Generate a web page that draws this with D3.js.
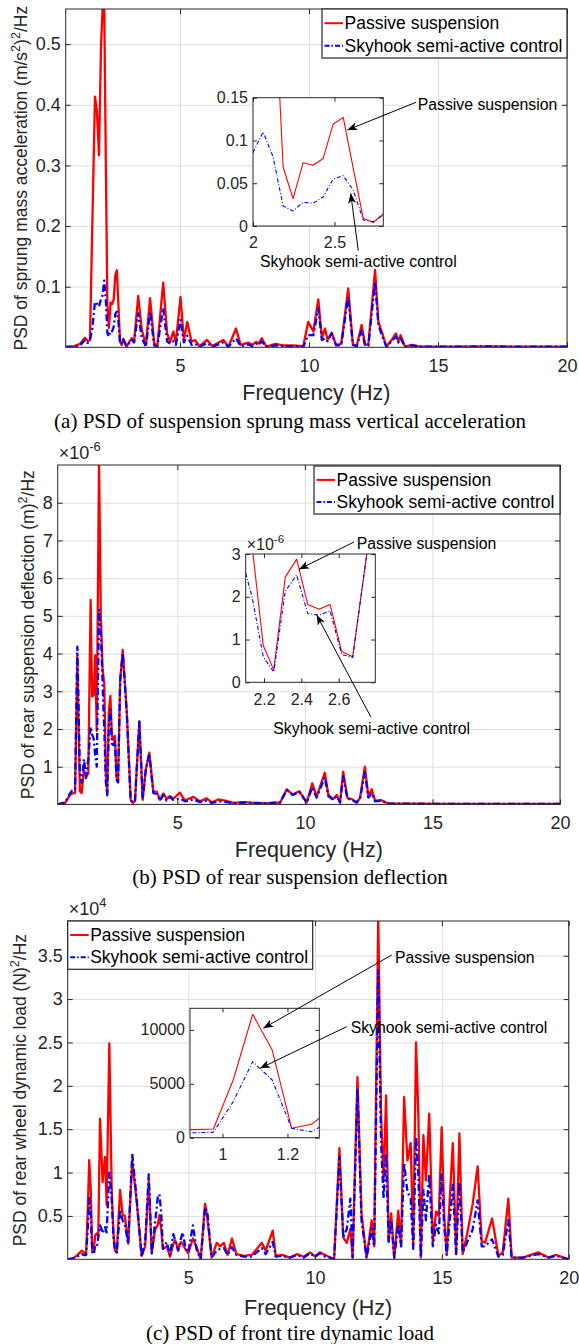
<!DOCTYPE html>
<html>
<head>
<meta charset="UTF-8">
<title>PSD comparison</title>
<script src="https://d3js.org/d3.v7.min.js"></script>
<style>
  body { margin: 0; background: #fff; }
  svg { display: block; font-family: "Liberation Sans", Arial, sans-serif; }
  .grid line { stroke: #dedede; stroke-width: 1; }
  .passive { fill: none; stroke: #ff0000; stroke-linejoin: round; }
  .skyhook { fill: none; stroke: #0000ff; stroke-linejoin: round; }
</style>
</head>
<body>
<svg width="579" height="1344"></svg>
<script>
// ---------- data ----------
var seriesNames = ['Passive suspension', 'Skyhook semi-active control'];
var xTicks = [5, 10, 15, 20];

// (a) sprung mass acceleration PSD, (m/s^2)^2/Hz
var freqA = [0.57, 0.90, 1.12, 1.32, 1.42, 1.51, 1.60, 1.705, 1.78, 1.86, 1.94, 2.00, 2.062, 2.123, 2.185, 2.246, 2.308, 2.369, 2.431, 2.492,
  2.554, 2.615, 2.677, 2.738, 2.80, 2.93, 3.05, 3.13, 3.22, 3.38, 3.52, 3.68, 3.84, 4.00, 4.12, 4.35, 4.50, 4.62, 4.74, 4.84,
  5.02, 5.15, 5.28, 5.45, 5.58, 5.75, 6.05, 6.25, 6.68, 6.88, 7.17, 7.35, 7.65, 7.80, 7.95, 8.05, 8.17, 8.35, 8.70, 9.00,
  9.40, 9.78, 9.97, 10.17, 10.36, 10.50, 10.62, 10.72, 10.88, 11.05, 11.25, 11.52, 11.70, 11.85, 12.04, 12.17, 12.30, 12.56, 12.69, 12.82,
  13.00, 13.20, 13.37, 13.46, 13.55, 13.72, 14.00, 14.30, 15.50, 17.00, 18.50, 20.00];
var passiveA = [0.001, 0.002, 0.0055, 0.016, 0.010, 0.012, 0.20, 0.4135, 0.39, 0.317, 0.50, 0.558, 0.57, 0.313, 0.069, 0.032, 0.074, 0.071, 0.079, 0.119,
  0.127, 0.068, 0.009, 0.004, 0.014, 0.001, 0.010, 0.015, 0.009, 0.0846, 0.0285, 0.004, 0.081, 0.0066, 0.002, 0.1066, 0.023, 0.009, 0.026, 0.009,
  0.083, 0.012, 0.042, 0.009, 0.012, 0.002, 0.012, 0.002, 0.012, 0.001, 0.031, 0.004, 0.0076, 0.004, 0.009, 0.006, 0.015, 0.001, 0.0055, 0.003,
  0.003, 0.002, 0.042, 0.026, 0.079, 0.015, 0.031, 0.012, 0.024, 0.004, 0.0055, 0.097, 0.005, 0.002, 0.0368, 0.005, 0.004, 0.1276, 0.042, 0.026,
  0.001, 0.012, 0.023, 0.010, 0.020, 0.001, 0.004, 0.001, 0.001, 0.0015, 0.001, 0.001];
var skyhookA = [0.000, 0.001, 0.003, 0.012, 0.007, 0.012, 0.030, 0.075, 0.072, 0.067, 0.080, 0.0857, 0.110, 0.081, 0.0234, 0.0175, 0.0277, 0.0265, 0.034, 0.055,
  0.0588, 0.042, 0.007, 0.005, 0.0129, 0.002, 0.008, 0.012, 0.008, 0.056, 0.015, 0.001, 0.0587, 0.003, 0.001, 0.065, 0.010, 0.006, 0.010, 0.004,
  0.045, 0.008, 0.019, 0.004, 0.006, 0.001, 0.007, 0.001, 0.008, 0.001, 0.015, 0.002, 0.005, 0.002, 0.006, 0.004, 0.010, 0.001, 0.003, 0.002,
  0.002, 0.001, 0.020, 0.020, 0.064, 0.012, 0.015, 0.010, 0.023, 0.003, 0.004, 0.0835, 0.004, 0.002, 0.0285, 0.004, 0.003, 0.108, 0.037, 0.020,
  0.001, 0.010, 0.0175, 0.008, 0.015, 0.001, 0.003, 0.001, 0.001, 0.0015, 0.001, 0.001];
var yTicksA = [0.1, 0.2, 0.3, 0.4, 0.5];
var insetFreqA = [2.0, 2.062, 2.123, 2.185, 2.246, 2.308, 2.369, 2.431, 2.492, 2.554, 2.615, 2.677, 2.738, 2.80];
var insetPassiveA = [0.50, 0.56, 0.313, 0.069, 0.032, 0.074, 0.071, 0.079, 0.119, 0.127, 0.068, 0.009, 0.004, 0.014];
var insetSkyhookA = [0.0857, 0.110, 0.081, 0.0234, 0.0175, 0.0277, 0.0265, 0.034, 0.055, 0.0588, 0.042, 0.007, 0.005, 0.0129];
var insetXTicksA = [2, 2.5];
var insetYTicksA = [0, 0.05, 0.1, 0.15];

// (b) rear suspension deflection PSD, x1e-6 m^2/Hz
var freqB = [0.31, 0.60, 0.80, 0.90, 0.99, 1.08, 1.18, 1.25, 1.34, 1.42, 1.51, 1.60, 1.66, 1.72, 1.78, 1.84, 1.93, 2.00, 2.07, 2.102,
  2.136, 2.196, 2.252, 2.314, 2.375, 2.434, 2.495, 2.554, 2.616, 2.675, 2.76, 2.86, 3.02, 3.17, 3.27, 3.34, 3.51, 3.64, 3.76, 3.90,
  4.06, 4.19, 4.32, 4.45, 4.58, 4.71, 4.84, 5.10, 5.30, 5.45, 5.63, 5.89, 6.15, 6.35, 6.60, 6.87, 7.20, 7.60, 8.00, 8.50,
  9.03, 9.29, 9.52, 9.78, 10.07, 10.29, 10.46, 10.78, 10.92, 11.11, 11.25, 11.38, 11.50, 11.67, 11.84, 12.03, 12.16, 12.35, 12.49, 12.62,
  12.75, 13.00, 13.18, 13.33, 14.00, 16.00, 18.00, 20.00];
var passiveB = [0, 0.04, 0.25, 0.30, 0.30, 3.92, 0.35, 0.30, 0.91, 0.74, 0.82, 5.42, 2.86, 2.90, 3.96, 1.95, 9.10, 5.00, 3.60, 3.40,
  3.20, 0.86, 0.29, 2.46, 2.88, 1.82, 1.71, 1.82, 0.72, 0.60, 3.30, 4.10, 2.42, 0.12, 0.04, 0.10, 2.19, 0.12, 0.91, 1.37,
  0.34, 0.34, 0.12, 0.29, 0.15, 0.22, 0.15, 0.31, 0.10, 0.15, 0.20, 0.08, 0.16, 0.05, 0.13, 0.10, 0.04, 0.06, 0.04, 0.03,
  0.05, 0.40, 0.26, 0.35, 0.05, 0.56, 0.20, 0.84, 0.25, 0.14, 0.25, 0.05, 0.87, 0.17, 0.14, 0.05, 0.17, 1.00, 0.20, 0.40,
  0.10, 0.11, 0.05, 0.02, 0.02, 0.01, 0.01, 0.01];
var skyhookB = [0, 0.05, 0.30, 0.40, 0.40, 4.18, 0.82, 0.58, 1.20, 0.70, 1.20, 2.06, 1.85, 1.75, 1.30, 1.00, 5.16, 4.60, 3.20, 2.55,
  2.00, 0.60, 0.24, 2.13, 2.51, 1.61, 1.57, 1.67, 0.65, 0.58, 3.30, 4.00, 2.40, 0.10, 0.05, 0.10, 2.20, 0.15, 0.90, 1.35,
  0.30, 0.28, 0.10, 0.25, 0.10, 0.20, 0.12, 0.16, 0.08, 0.10, 0.13, 0.06, 0.10, 0.04, 0.08, 0.07, 0.03, 0.05, 0.04, 0.03,
  0.05, 0.38, 0.25, 0.33, 0.05, 0.45, 0.18, 0.72, 0.22, 0.12, 0.22, 0.05, 0.75, 0.15, 0.12, 0.05, 0.15, 0.85, 0.18, 0.30,
  0.08, 0.10, 0.04, 0.02, 0.02, 0.01, 0.01, 0.01];
var yTicksB = [1, 2, 3, 4, 5, 6, 7, 8];
var insetFreqB = [2.102, 2.136, 2.196, 2.252, 2.314, 2.375, 2.434, 2.495, 2.554, 2.616, 2.675, 2.76];
var insetPassiveB = [3.6, 3.2, 0.86, 0.29, 2.46, 2.88, 1.82, 1.71, 1.82, 0.72, 0.60, 3.3];
var insetSkyhookB = [2.55, 2.0, 0.60, 0.24, 2.13, 2.51, 1.61, 1.57, 1.67, 0.65, 0.58, 3.3];
var insetXTicksB = [2.2, 2.4, 2.6];
var insetYTicksB = [0, 1, 2, 3];

// (c) rear wheel dynamic load PSD, x1e4 N^2/Hz
var freqC = [0.245, 0.45, 0.60, 0.80, 0.912, 0.972, 1.033, 1.093, 1.153, 1.213, 1.274, 1.334, 1.40, 1.45, 1.52, 1.58, 1.62, 1.72, 1.78, 1.885,
  1.98, 2.05, 2.11, 2.18, 2.31, 2.41, 2.50, 2.63, 2.79, 2.97, 3.16, 3.30, 3.44, 3.56, 3.69, 3.80, 3.86, 3.93, 4.00, 4.15,
  4.28, 4.41, 4.48, 4.60, 4.72, 4.78, 4.88, 5.00, 5.18, 5.32, 5.49, 5.66, 5.75, 5.92, 6.12, 6.25, 6.40, 6.55, 6.72, 6.90,
  7.20, 7.50, 7.90, 8.05, 8.33, 8.45, 8.70, 9.00, 9.30, 9.55, 9.80, 10.00, 10.19, 10.40, 10.60, 10.75, 10.96, 11.11, 11.25, 11.39,
  11.48, 11.67, 11.83, 12.03, 12.23, 12.33, 12.49, 12.60, 12.70, 12.80, 12.90, 13.00, 13.12, 13.28, 13.39, 13.51, 13.64, 13.77, 13.87, 13.98,
  14.07, 14.17, 14.27, 14.37, 14.50, 14.64, 14.77, 14.88, 14.99, 15.10, 15.19, 15.43, 15.56, 15.69, 15.82, 16.00, 16.21, 16.41, 16.57, 16.70,
  16.98, 17.23, 17.40, 17.62, 17.75, 18.20, 18.80, 19.20, 19.50, 20.00];
var passiveC = [0, 0.01, 0.04, 0.10, 0.075, 0.08, 0.535, 1.144, 0.813, 0.087, 0.124, 0.28, 0.30, 0.27, 1.62, 1.20, 0.89, 1.18, 0.63, 2.49,
  0.80, 0.30, 0.10, 0.08, 0.80, 0.51, 0.50, 0.18, 1.14, 0.65, 0.04, 0.15, 0.90, 0.07, 0.34, 0.40, 0.51, 0.35, 0.12, 0.15,
  0.03, 0.18, 0.22, 0.12, 0.20, 0.18, 0.12, 0.07, 0.24, 0.15, 0.0, 0.64, 0.48, 0.02, 0.19, 0.15, 0.19, 0.05, 0.24, 0.06,
  0.04, 0.05, 0.19, 0.10, 0.33, 0.04, 0.05, 0.02, 0.06, 0.03, 0.08, 0.03, 0.08, 0.05, 0.02, 0.0, 1.28, 0.25, 0.19, 0.35,
  0.02, 2.10, 0.53, 0.02, 0.45, 0.15, 3.95, 1.68, 0.90, 1.89, 0.21, 0.53, 0.02, 0.56, 0.15, 1.87, 1.14, 1.34, 0.15, 2.50,
  1.68, 0.02, 1.43, 0.91, 1.68, 0.21, 0.55, 0.50, 1.52, 0.45, 0.06, 1.34, 0.07, 1.45, 0.06, 0.30, 0.63, 1.07, 0.21, 0.19,
  0.47, 0.04, 0.08, 0.70, 0.02, 0.02, 0.08, 0.02, 0.05, 0.0];
var skyhookC = [0, 0.01, 0.03, 0.06, 0.046, 0.05, 0.334, 0.705, 0.535, 0.087, 0.056, 0.16, 0.15, 0.25, 0.39, 0.35, 0.30, 0.37, 0.31, 1.00,
  0.70, 0.25, 0.10, 0.08, 0.57, 0.45, 0.40, 0.18, 1.22, 0.68, 0.03, 0.20, 0.98, 0.07, 0.42, 0.72, 0.75, 0.55, 0.12, 0.20,
  0.05, 0.29, 0.22, 0.10, 0.25, 0.31, 0.15, 0.08, 0.39, 0.12, 0.0, 0.60, 0.55, 0.02, 0.10, 0.12, 0.13, 0.05, 0.14, 0.05,
  0.03, 0.03, 0.13, 0.06, 0.20, 0.03, 0.04, 0.02, 0.05, 0.02, 0.07, 0.03, 0.07, 0.03, 0.02, 0.0, 1.18, 0.25, 0.35, 0.70,
  0.02, 1.97, 0.45, 0.02, 0.35, 0.15, 3.33, 1.35, 0.70, 1.22, 0.20, 0.45, 0.02, 0.40, 0.15, 1.11, 0.78, 0.70, 0.12, 1.41,
  1.00, 0.02, 0.80, 0.45, 0.98, 0.15, 0.40, 0.30, 0.98, 0.35, 0.05, 0.86, 0.06, 0.89, 0.08, 0.20, 0.34, 0.68, 0.15, 0.15,
  0.23, 0.03, 0.05, 0.45, 0.02, 0.02, 0.06, 0.02, 0.04, 0.0];
var yTicksC = [0.5, 1, 1.5, 2, 2.5, 3, 3.5];
var insetFreqC = [0.852, 0.912, 0.972, 1.033, 1.093, 1.153, 1.213, 1.274, 1.334];
var insetPassiveC = [740, 750, 800, 5350, 11440, 8130, 870, 1240, 2640];
var insetSkyhookC = [460, 460, 500, 3340, 7050, 5350, 870, 560, 1560];
var insetXTicksC = [1, 1.2];
var insetYTicksC = [0, 5000, 10000];

// ---------- drawing ----------
var svg = d3.select('svg');
var defs = svg.append('defs');
var AXC = '#262626';
var fmt = d3.format('~g');

defs.append('marker').attr('id', 'head')
    .attr('markerUnits', 'userSpaceOnUse')
    .attr('markerWidth', 11).attr('markerHeight', 9)
    .attr('refX', 10).attr('refY', 4)
    .attr('orient', 'auto')
  .append('path')
    .attr('d', 'M0,0 L10,4 L0,8 L2.5,4 Z')
    .attr('fill', '#000');

// text with ^superscript parts
function rich(t, parts, size) {
    var up = false;
    parts.forEach(function(p) {
        var sup = p.charAt(0) === '^';
        var s = t.append('tspan').text(sup ? p.slice(1) : p);
        if (sup) { s.attr('font-size', size * 0.72).attr('dy', -size * 0.42); up = true; }
        else if (up) { s.attr('dy', size * 0.42); up = false; }
    });
}

function axesBox(g, x, y, b, o) {
    var tick = o.tick;
    function style(sel, size) {
        sel.attr('font-family', null).attr('font-size', size);
        sel.select('.domain').remove();
        sel.selectAll('line').attr('stroke', AXC);
        sel.selectAll('text').attr('fill', AXC);
    }
    g.append('g').attr('transform', 'translate(0,' + b.bottom + ')')
        .call(d3.axisBottom(x).tickValues(o.xTicks).tickSize(-tick).tickSizeOuter(0).tickPadding(o.xPad).tickFormat(fmt))
        .call(style, o.font);
    g.append('g').attr('transform', 'translate(' + b.left + ',0)')
        .call(d3.axisLeft(y).tickValues(o.yTicks).tickSize(-tick).tickSizeOuter(0).tickPadding(o.yPad).tickFormat(fmt))
        .call(style, o.font);
    g.append('g').attr('transform', 'translate(0,' + b.top + ')')
        .call(d3.axisTop(x).tickValues(o.xTicks).tickSize(-tick).tickSizeOuter(0).tickFormat(''))
        .call(style, o.font);
    g.append('g').attr('transform', 'translate(' + b.right + ',0)')
        .call(d3.axisRight(y).tickValues(o.yTicks).tickSize(-tick).tickSizeOuter(0).tickFormat(''))
        .call(style, o.font);
    g.append('rect')
        .attr('x', b.left).attr('y', b.top)
        .attr('width', b.right - b.left).attr('height', b.bottom - b.top)
        .attr('fill', 'none').attr('stroke', AXC).attr('stroke-width', 1);
}

function drawLines(g, x, y, b, id, freq, passive, skyhook, lw, dash) {
    defs.append('clipPath').attr('id', id).append('rect')
        .attr('x', b.left).attr('y', b.top)
        .attr('width', b.right - b.left).attr('height', b.bottom - b.top);
    var line = d3.line().x(function(d) { return x(d[0]); }).y(function(d) { return y(d[1]); });
    g.append('path').datum(d3.zip(freq, passive))
        .attr('class', 'passive').attr('stroke-width', lw)
        .attr('clip-path', 'url(#' + id + ')').attr('d', line);
    g.append('path').datum(d3.zip(freq, skyhook))
        .attr('class', 'skyhook').attr('stroke-width', lw).attr('stroke-dasharray', dash)
        .attr('clip-path', 'url(#' + id + ')').attr('d', line);
}

function drawPanel(p) {
    var b = p.box, g = svg.append('g');
    var x = d3.scaleLinear().domain(p.xDomain).range([b.left, b.right]);
    var y = d3.scaleLinear().domain(p.yDomain).range([b.bottom, b.top]);

    g.append('g').attr('class', 'grid').attr('transform', 'translate(0,' + b.bottom + ')')
        .call(d3.axisBottom(x).tickValues(xTicks).tickSize(-(b.bottom - b.top)).tickFormat(''))
        .call(function(s) { s.select('.domain').remove(); });
    g.append('g').attr('class', 'grid').attr('transform', 'translate(' + b.left + ',0)')
        .call(d3.axisLeft(y).tickValues(p.yTicks).tickSize(-(b.right - b.left)).tickFormat(''))
        .call(function(s) { s.select('.domain').remove(); });

    drawLines(g, x, y, b, 'clip' + p.id, p.freq, p.passive, p.skyhook, 2.3, '7,3,2,3');
    axesBox(g, x, y, b, { xTicks: xTicks, yTicks: p.yTicks, tick: 5, xPad: 12, yPad: 5, font: 18 });

    // x label
    g.append('text').attr('x', (b.left + b.right) / 2).attr('y', p.xLabelY + 7.5)
        .attr('text-anchor', 'middle').attr('font-size', 21.5).attr('fill', AXC)
        .text('Frequency (Hz)');
    // y label
    var yl = g.append('text')
        .attr('transform', 'translate(' + p.yLabelX + ',' + (b.top + b.bottom) / 2 + ') rotate(-90)')
        .attr('y', 6).attr('text-anchor', 'middle').attr('font-size', 17.5).attr('fill', AXC);
    rich(yl, p.yLabel, 17.5);
    // exponent
    if (p.exponent) {
        var ex = g.append('text').attr('x', b.left + 1).attr('y', b.top - 6)
            .attr('font-size', 18).attr('fill', AXC);
        rich(ex, ['\u00d710', '^' + p.exponent], 18);
    }
    // caption
    svg.append('text').attr('x', 290).attr('y', p.captionY + 7)
        .attr('text-anchor', 'middle').attr('font-size', 21)
        .attr('font-family', '"Liberation Serif", "Times New Roman", serif')
        .attr('fill', '#000').text(p.caption);

    // legend
    var L = p.legend;
    g.append('rect').attr('x', L.x).attr('y', L.y).attr('width', L.w).attr('height', L.h)
        .attr('fill', '#fff').attr('stroke', AXC).attr('stroke-width', 1.2);
    seriesNames.forEach(function(name, i) {
        var yy = L.y + L.h * (i === 0 ? 0.29 : 0.75);
        g.append('line').attr('x1', L.x + 2.5).attr('x2', L.x + 21).attr('y1', yy).attr('y2', yy)
            .attr('class', i === 0 ? 'passive' : 'skyhook').attr('stroke-width', 2)
            .attr('stroke-dasharray', i === 0 ? null : '5,2,1.5,2');
        g.append('text').attr('x', L.x + 22.5).attr('y', yy + 6.2)
            .attr('font-size', 17.5).attr('fill', '#000').text(name);
    });

    // inset
    var I = p.inset, ib = I.box;
    var ix = d3.scaleLinear().domain(I.xDomain).range([ib.left, ib.right]);
    var iy = d3.scaleLinear().domain(I.yDomain).range([ib.bottom, ib.top]);
    g.append('rect').attr('x', ib.left).attr('y', ib.top)
        .attr('width', ib.right - ib.left).attr('height', ib.bottom - ib.top).attr('fill', '#fff');
    drawLines(g, ix, iy, ib, 'iclip' + p.id, I.freq, I.passive, I.skyhook, 1.1, '4,2,1,2');
    axesBox(g, ix, iy, ib, { xTicks: I.xTicks, yTicks: I.yTicks, tick: 4, xPad: 11, yPad: 5, font: 16 });
    if (I.exponent) {
        var iex = g.append('text').attr('x', ib.left + 1).attr('y', ib.top - 4)
            .attr('font-size', 16).attr('fill', AXC);
        rich(iex, ['\u00d710', '^' + I.exponent], 16);
    }

    // arrows with labels
    p.notes.forEach(function(n) {
        g.append('line').attr('x1', n.from[0]).attr('y1', n.from[1])
            .attr('x2', n.to[0]).attr('y2', n.to[1])
            .attr('stroke', '#000').attr('stroke-width', 1).attr('marker-end', 'url(#head)');
        g.append('text').attr('x', n.tx).attr('y', n.ty + 5.6)
            .attr('font-size', 15.8).attr('fill', '#000').text(n.text);
    });
}

drawPanel({
    id: 'a', freq: freqA, passive: passiveA, skyhook: skyhookA,
    box: { left: 65.7, right: 567, top: 9, bottom: 347.3 },
    xDomain: [0.57, 20], yDomain: [0, 0.558], yTicks: yTicksA,
    xLabelY: 392, yLabelX: 21, captionY: 421,
    yLabel: ['PSD of sprung mass acceleration (m/s', '^2', ')', '^2', '/Hz'],
    caption: '(a) PSD of suspension sprung mass vertical acceleration',
    legend: { x: 322, y: 9, w: 245, h: 49 },
    inset: {
        box: { left: 253, right: 383.3, top: 97.7, bottom: 226 },
        xDomain: [2, 2.8], yDomain: [0, 0.15],
        xTicks: insetXTicksA, yTicks: insetYTicksA,
        freq: insetFreqA, passive: insetPassiveA, skyhook: insetSkyhookA
    },
    notes: [
        { text: seriesNames[0], tx: 417.7, ty: 104, from: [416, 102.3], to: [347.3, 130] },
        { text: seriesNames[1], tx: 260, ty: 261.7, from: [358.3, 250.7], to: [350.7, 193.3] }
    ]
});

drawPanel({
    id: 'b', freq: freqB, passive: passiveB, skyhook: skyhookB,
    box: { left: 57.7, right: 560, top: 465, bottom: 804.4 },
    xDomain: [0.31, 20], yDomain: [0, 9], yTicks: yTicksB, exponent: '-6',
    xLabelY: 849, yLabelX: 28, captionY: 877,
    yLabel: ['PSD of rear suspension deflection (m)', '^2', '/Hz'],
    caption: '(b) PSD of rear suspension deflection',
    legend: { x: 314, y: 466, w: 246, h: 48 },
    inset: {
        box: { left: 245.7, right: 375.3, top: 554, bottom: 682.3 },
        xDomain: [2.102, 2.796], yDomain: [0, 3], exponent: '-6',
        xTicks: insetXTicksB, yTicks: insetYTicksB,
        freq: insetFreqB, passive: insetPassiveB, skyhook: insetSkyhookB
    },
    notes: [
        { text: seriesNames[0], tx: 356.7, ty: 543.3, from: [354, 542], to: [299, 569.3] },
        { text: seriesNames[1], tx: 273.3, ty: 728.3, from: [371, 717.3], to: [316.7, 615] }
    ]
});

drawPanel({
    id: 'c', freq: freqC, passive: passiveC, skyhook: skyhookC,
    box: { left: 67.7, right: 568.7, top: 921, bottom: 1259.3 },
    xDomain: [0.245, 20], yDomain: [0, 3.9], yTicks: yTicksC, exponent: '4',
    xLabelY: 1307, yLabelX: 20, captionY: 1333,
    yLabel: ['PSD of rear wheel dynamic load (N)', '^2', '/Hz'],
    caption: '(c) PSD of front tire dynamic load',
    legend: { x: 67.7, y: 921, w: 245, h: 48.3 },
    inset: {
        box: { left: 190, right: 319.3, top: 1008.3, bottom: 1137.7 },
        xDomain: [0.9, 1.298], yDomain: [0, 12000],
        xTicks: insetXTicksC, yTicks: insetYTicksC,
        freq: insetFreqC, passive: insetPassiveC, skyhook: insetSkyhookC
    },
    notes: [
        { text: seriesNames[0], tx: 395, ty: 957.3, from: [391.7, 955], to: [263.3, 1028.3] },
        { text: seriesNames[1], tx: 350.7, ty: 1027.7, from: [346.7, 1026.7], to: [260, 1068.3] }
    ]
});
</script>
</body>
</html>
